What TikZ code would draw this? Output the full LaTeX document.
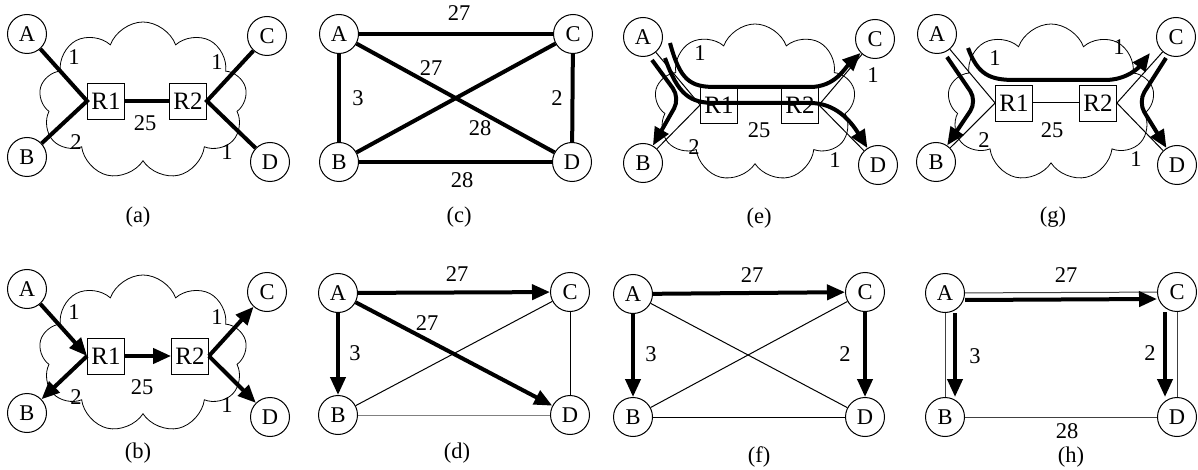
\documentclass[tikz,border=0pt]{standalone}
\usepackage{fontspec}
\setmainfont{Liberation Serif}
\usetikzlibrary{arrows.meta, shapes.symbols}

\tikzset{
  host/.style={circle, draw, line width=1pt, minimum size=39pt, inner sep=0pt},
  router/.style={rectangle, draw, line width=0.8pt, fill=white, minimum width=37pt,
    minimum height=36pt, inner sep=0pt, font=\fontsize{25}{27}\selectfont},
  net/.style={cloud, draw, line width=0.8pt, cloud puffs=9, cloud puff arc=140,
    cloud ignores aspect, minimum width=208pt, minimum height=158pt},
  thicklink/.style={line width=4pt},
  thinlink/.style={line width=1pt},
  flow/.style={line width=4pt, -{Triangle[length=18pt,width=15pt]}},
  wt/.style={inner sep=0pt},
}

\begin{document}
\begin{tikzpicture}[x=1pt, y=-1pt, font=\fontsize{22.5}{25}\selectfont]
	\useasboundingbox (0,0) rectangle (1198,470);

	% --- (a) rede com R1 e R2
	\node[net] (anet) at (143,101) {};
	\node[host] (aA) at (27,34) {A};
	\node[host] (aB) at (27,157) {B};
	\node[host] (aC) at (267,36) {C};
	\node[host] (aD) at (270,162) {D};
	\node[router] (aR1) at (106,101) {R1};
	\node[router] (aR2) at (188,101) {R2};
	\draw[thicklink] (aA) -- (aR1.west) -- (aB);
	\draw[thicklink] (aR1) -- (aR2);
	\draw[thicklink] (aC) -- (aR2.east) -- (aD);
	\node[wt] (aw1) at (74,57) {1};
	\node[wt] (aw2) at (76,142) {2};
	\node[wt] (aw3) at (145,123) {25};
	\node[wt] (aw4) at (217,62) {1};
	\node[wt] (aw5) at (227,152) {1};
	\node (acap) at (138,217) {(a)};

	% --- (b) fluxos na rede
	\node[net] (bnet) at (143,354) {};
	\node[host] (bA) at (27,289) {A};
	\node[host] (bB) at (27,413) {B};
	\node[host] (bC) at (267,292) {C};
	\node[host] (bD) at (270,417) {D};
	\node[router] (bR1) at (106,356) {R1};
	\node[router] (bR2) at (190,356) {R2};
	\draw[flow] (bA) -- (bR1.west);
	\draw[flow] (bR1.west) -- (bB);
	\draw[flow] (bR1) -- (bR2);
	\draw[flow] (bR2.east) -- (bC);
	\draw[flow] (bR2.east) -- (bD);
	\node[wt] (bw1) at (74,312) {1};
	\node[wt] (bw2) at (76,397) {2};
	\node[wt] (bw3) at (142,387) {25};
	\node[wt] (bw4) at (217,317) {1};
	\node[wt] (bw5) at (227,405) {1};
	\node (bcap) at (138,453) {(b)};

	% --- (c) grafo completo
	\node[host] (cA) at (339,34) {A};
	\node[host] (cB) at (339,162) {B};
	\node[host] (cC) at (573,34) {C};
	\node[host] (cD) at (572,162) {D};
	\draw[thicklink] (cA) -- (cC);
	\draw[thicklink] (cA) -- (cB);
	\draw[thicklink] (cA) -- (cD);
	\draw[thicklink] (cB) -- (cC);
	\draw[thicklink] (cC) -- (cD);
	\draw[thicklink] (cB) -- (cD);
	\node[wt] (cw1) at (459,13) {27};
	\node[wt] (cw2) at (431,68) {27};
	\node[wt] (cw3) at (358,98) {3};
	\node[wt] (cw4) at (557,98) {2};
	\node[wt] (cw5) at (480,128) {28};
	\node[wt] (cw6) at (462,180) {28};
	\node (ccap) at (459,217) {(c)};

	% --- (d)
	\node[host] (dA) at (338,293) {A};
	\node[host] (dB) at (338,415) {B};
	\node[host] (dC) at (570,292) {C};
	\node[host] (dD) at (570,415) {D};
	\draw[thinlink] (dB) -- (dC);
	\draw[thinlink] (dC) -- (dD);
	\draw[thinlink, gray] (dB) -- (dD);
	\draw[flow] (dA) -- (dC);
	\draw[flow] (dA) -- (dB);
	\draw[flow] (dA) -- (dD);
	\node[wt] (dw1) at (457,274) {27};
	\node[wt] (dw2) at (427,323) {27};
	\node[wt] (dw3) at (355,353) {3};
	\node (dcap) at (457,453) {(d)};

	% --- (e) caminhos pela rede
	\node[net, minimum width=201pt] (enet) at (755,103) {};
	\node[host] (eA) at (643,37) {A};
	\node[host] (eB) at (643,163) {B};
	\node[host] (eC) at (875,39) {C};
	\node[host] (eD) at (878,165) {D};
	\node[router] (eR1) at (719,105) {R1};
	\node[router] (eR2) at (800,105) {R2};
	\draw[thinlink] (eA) -- (eR1.west) -- (eB);
	\draw[thinlink] (eR1) -- (eR2);
	\draw[thinlink] (eC) -- (eR2.east) -- (eD);
	\coordinate (eab0) at (652,60);
	\coordinate (eab1) at (680,98);
	\coordinate (eac0) at (670,43);
	\coordinate (ead0) at (665,58);
	\draw[flow, rounded corners=12pt] (eab0) -- (eab1) -- (eB);
	\draw[flow] (eac0) .. controls (680,80) and (690,87) .. (715,87) -- (810,87)
		.. controls (835,87) and (845,68) .. (eC);
	\draw[flow] (ead0) .. controls (678,95) and (690,103) .. (715,103) -- (810,103)
		.. controls (835,103) and (850,120) .. (eD);
	\node[wt] (ew1) at (700,53) {1};
	\node[wt] (ew2) at (694,147) {2};
	\node[wt] (ew3) at (759,130) {25};
	\node[wt] (ew4) at (873,75) {1};
	\node[wt] (ew5) at (835,160) {1};
	\node (ecap) at (759,218) {(e)};

	% --- (f)
	\node[host] (fA) at (633,294) {A};
	\node[host] (fB) at (633,417) {B};
	\node[host] (fC) at (865,292) {C};
	\node[host] (fD) at (865,417) {D};
	\draw[thinlink] (fA) -- (fD);
	\draw[thinlink] (fB) -- (fC);
	\draw[thinlink] (fB) -- (fD);
	\draw[flow] (fA) -- (fC);
	\draw[flow] (fA) -- (fB);
	\draw[flow] (fC) -- (fD);
	\node[wt] (fw1) at (752,275) {27};
	\node[wt] (fw2) at (651,354) {3};
	\node[wt] (fw3) at (845,354) {2};
	\node (fcap) at (759,457) {(f)};

	% --- (g) caminhos pela rede
	\node[net, minimum width=207pt] (gnet) at (1051,103) {};
	\node[host] (gA) at (937,34) {A};
	\node[host] (gB) at (936,162) {B};
	\node[host] (gC) at (1176,37) {C};
	\node[host] (gD) at (1177,165) {D};
	\node[router] (gR1) at (1014,103) {R1};
	\node[router] (gR2) at (1098,103) {R2};
	\draw[thinlink] (gA) -- (gR1.west) -- (gB);
	\draw[thinlink] (gR1) -- (gR2);
	\draw[thinlink] (gC) -- (gR2.east) -- (gD);
	\coordinate (gab0) at (947,57);
	\coordinate (gab1) at (977,101);
	\coordinate (gac0) at (968,48);
	\coordinate (gac1) at (1150,53);
	\coordinate (gcd0) at (1166,58);
	\coordinate (gcd1) at (1138,102);
	\draw[flow, rounded corners=12pt] (gab0) -- (gab1) -- (gB);
	\draw[flow] (gac0) .. controls (978,75) and (990,80) .. (1015,80) -- (1105,80)
		.. controls (1128,80) and (1140,66) .. (gac1);
	\draw[flow, rounded corners=12pt] (gcd0) -- (gcd1) -- (gD);
	\node[wt] (gw1) at (995,58) {1};
	\node[wt] (gw2) at (1119,47) {1};
	\node[wt] (gw3) at (984,140) {2};
	\node[wt] (gw4) at (1052,130) {25};
	\node[wt] (gw5) at (1136,159) {1};
	\node (gcap) at (1053,217) {(g)};

	% --- (h)
	\node[host] (hA) at (945,293) {A};
	\node[host] (hB) at (945,417) {B};
	\node[host] (hC) at (1177,292) {C};
	\node[host] (hD) at (1177,417) {D};
	\draw[thinlink, black!75] (hA) -- (hC);
	\draw[thinlink, black!75] (hA) -- (hB);
	\draw[thinlink, black!75] (hC) -- (hD);
	\draw[thinlink, black!75] (hB) -- (hD);
	\draw[flow] ([yshift=-7pt]hA.east) -- ([yshift=-7pt]hC.west);
	\draw[flow] ([xshift=10pt]hA.south) -- ([xshift=10pt]hB.north);
	\draw[flow] ([xshift=-12pt]hC.south) -- ([xshift=-12pt]hD.north);
	\node[wt] (hw1) at (1066,275) {27};
	\node[wt] (hw2) at (975,356) {3};
	\node[wt] (hw3) at (1150,353) {2};
	\node[wt] (hw4) at (1067,431) {28};
	\node (hcap) at (1071,457) {(h)};

\end{tikzpicture}
\end{document}
